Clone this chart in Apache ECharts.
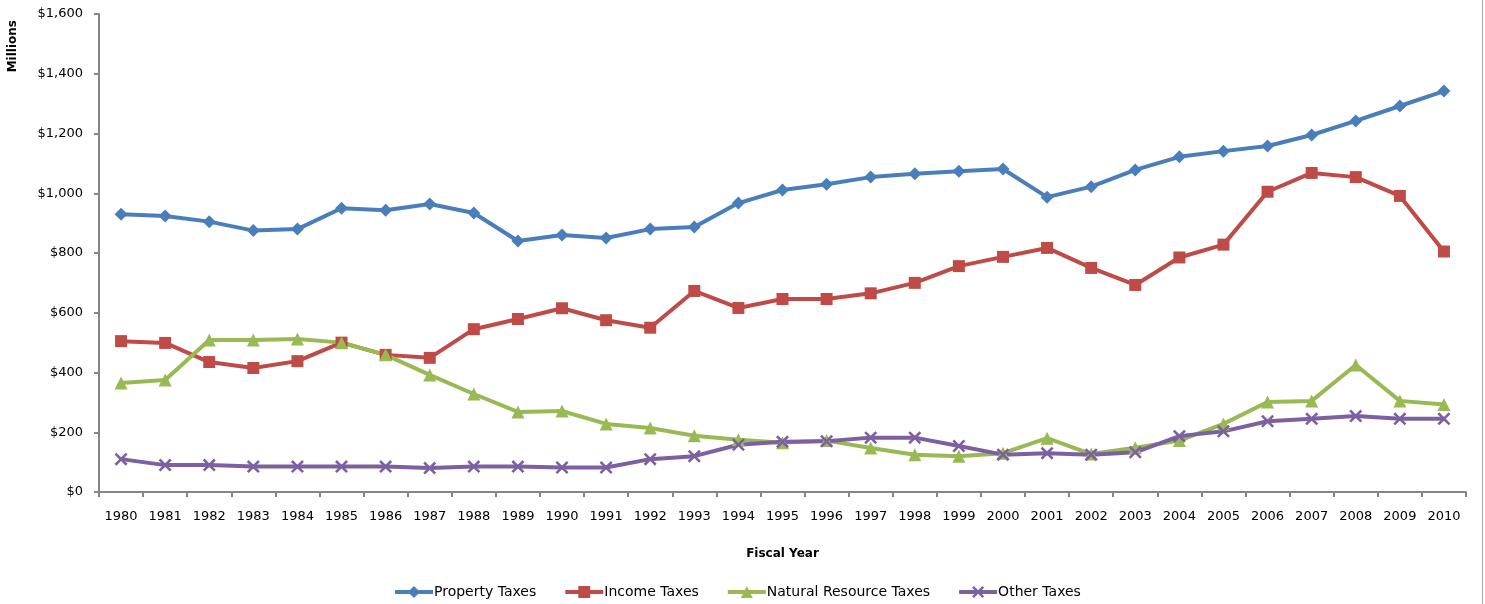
<!DOCTYPE html>
<html>
<head>
<meta charset="utf-8">
<title>Tax Revenue by Type, FY1980-2010</title>
<script src="https://cdn.jsdelivr.net/npm/echarts@6/dist/echarts.min.js"></script>
<style>
  html, body { margin: 0; padding: 0; background: #ffffff; }
  #chart { width: 1485px; height: 604px; }
</style>
</head>
<body>
<div id="chart"></div>
<script>
// Fiscal years on the category axis
const years = ['1980','1981','1982','1983','1984','1985','1986','1987','1988','1989',
  '1990','1991','1992','1993','1994','1995','1996','1997','1998','1999',
  '2000','2001','2002','2003','2004','2005','2006','2007','2008','2009','2010'];

// Revenue in millions of dollars
const propertyTaxes = [930, 924, 905, 875, 880, 950, 943, 964, 934, 840,
  860, 850, 880, 887, 967, 1011, 1030, 1054, 1065, 1074,
  1081, 987, 1022, 1078, 1122, 1141, 1158, 1195, 1242, 1292, 1342];
const incomeTaxes = [505, 499, 435, 415, 438, 500, 459, 449, 545, 579,
  615, 575, 550, 673, 616, 646, 646, 665, 700, 756,
  787, 817, 750, 693, 785, 828, 1005, 1068, 1054, 991, 805];
const naturalResourceTaxes = [365, 375, 509, 509, 512, 500, 459, 392, 328, 268,
  271, 228, 214, 188, 175, 165, 172, 147, 125, 120,
  130, 180, 127, 148, 172, 228, 301, 305, 425, 305, 293];
const otherTaxes = [110, 90, 90, 85, 85, 85, 85, 80, 85, 85,
  82, 82, 110, 120, 158, 168, 170, 182, 182, 154,
  125, 130, 125, 133, 187, 203, 237, 245, 254, 245, 245];

// Value axis ticks
const yMin = 0, yMax = 1600, yStep = 200;

const seriesNames = ['Property Taxes', 'Income Taxes', 'Natural Resource Taxes', 'Other Taxes'];
const seriesData = [propertyTaxes, incomeTaxes, naturalResourceTaxes, otherTaxes];
const seriesColors = ['#4A7EBB', '#BE4B48', '#98B954', '#7D60A0'];
const crossPath = 'path://M0,1.4 L1.4,0 L5,3.6 L8.6,0 L10,1.4 L6.4,5 L10,8.6 L8.6,10 L5,6.4 L1.4,10 L0,8.6 L3.6,5 Z';
const seriesSymbols = ['diamond', 'rect', 'triangle', crossPath];
const symbolSizes = [13, 12, 13, 13];

const fontFamily = 'DejaVu Sans, Verdana, sans-serif';
const axisGray = '#868686';

const chart = echarts.init(document.getElementById('chart'), null, { renderer: 'canvas' });

chart.setOption({
  backgroundColor: '#ffffff',
  animation: false,
  textStyle: { fontFamily: fontFamily },
  grid: { left: 99, right: 19, top: 14, bottom: 112, containLabel: false },
  legend: {
    data: seriesNames,
    bottom: 0,
    left: 388,
    itemWidth: 38,
    itemHeight: 15,
    itemGap: 27,
    lineStyle: { width: 4 },
    textStyle: { fontFamily: fontFamily, fontSize: 14, color: '#000000', padding: [0, 0, 0, -4] }
  },
  xAxis: {
    type: 'category',
    data: years,
    boundaryGap: true,
    name: 'Fiscal Year',
    nameLocation: 'middle',
    nameGap: 56,
    nameTextStyle: { fontFamily: fontFamily, fontSize: 12, fontWeight: 'bold', color: '#000000' },
    axisLine: { lineStyle: { color: axisGray, width: 2 } },
    axisTick: { show: true, alignWithLabel: false, length: 5, lineStyle: { color: axisGray, width: 2 } },
    axisLabel: { interval: 0, margin: 18, fontSize: 13, color: '#000000', fontFamily: fontFamily },
    splitLine: { show: false }
  },
  yAxis: {
    type: 'value',
    min: yMin,
    max: yMax,
    interval: yStep,
    axisLine: { show: true, lineStyle: { color: axisGray, width: 2 } },
    axisTick: { show: true, length: 5, lineStyle: { color: axisGray, width: 2 } },
    axisLabel: {
      margin: 16,
      fontSize: 13,
      color: '#000000',
      fontFamily: fontFamily,
      formatter: function (v) { return '$' + v.toLocaleString('en-US'); }
    },
    splitLine: { show: false }
  },
  graphic: [
    {
      type: 'text',
      left: 7,
      top: 20,
      rotation: Math.PI / 2,
      style: {
        text: 'Millions',
        font: 'bold 12px ' + fontFamily,
        fill: '#000000'
      }
    },
    {
      type: 'line',
      shape: { x1: 1482.5, y1: 0, x2: 1482.5, y2: 604 },
      style: { stroke: '#A6A6A6', lineWidth: 1 }
    }
  ],
  series: seriesNames.map(function (name, i) {
    return {
      name: name,
      type: 'line',
      data: seriesData[i],
      symbol: seriesSymbols[i],
      symbolSize: symbolSizes[i],
      showAllSymbol: true,
      lineStyle: { color: seriesColors[i], width: 4 },
      itemStyle: { color: seriesColors[i], borderWidth: 0 },
      emphasis: { disabled: true }
    };
  })
});
</script>
</body>
</html>
